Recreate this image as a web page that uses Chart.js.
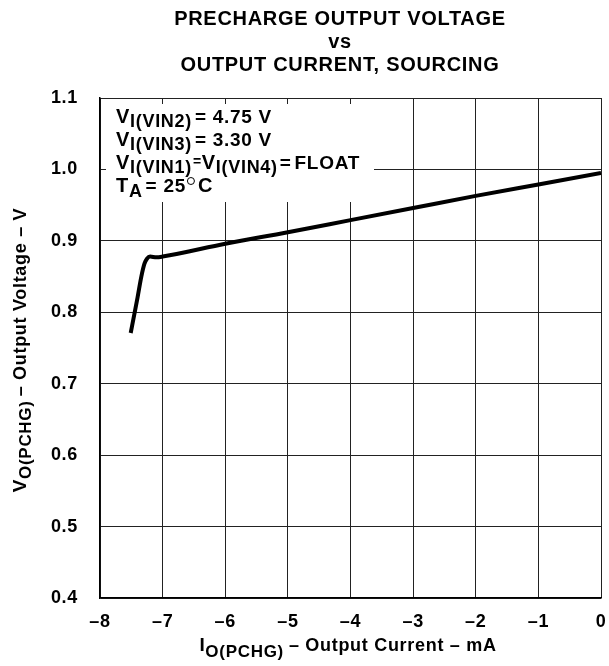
<!DOCTYPE html>
<html>
<head>
    <meta charset="UTF-8">
    <script src="https://cdn.jsdelivr.net/npm/chart.js"></script>
    <style>
        html, body { margin: 0; padding: 0; background: #fff; }
        #wrap { width: 609px; height: 666px; }
    </style>
</head>
<body>
    <div id="wrap"><canvas id="pchgChart"></canvas></div>
    <script>
        // (mA, V)
        const currentMA = [-7.51, -7.45, -7.40, -7.34, -7.29, -7.25, -7.20, -7.10, -7.00, -6, -5, -4, -3, -2, -1, 0];
        const voltageV  = [0.771, 0.798, 0.821, 0.850, 0.868, 0.875, 0.878, 0.877, 0.878, 0.896, 0.912, 0.929, 0.946, 0.963, 0.979, 0.995];

        const xTicks = [-8, -7, -6, -5, -4, -3, -2, -1, 0];
        const yTicks = [0.4, 0.5, 0.6, 0.7, 0.8, 0.9, 1.0, 1.1];

        const titleLines = ["PRECHARGE OUTPUT VOLTAGE", "vs", "OUTPUT CURRENT, SOURCING"];

        const FONT = "'Liberation Sans', Arial, sans-serif";
        const SPACING = "0.7px";

        function runsWidth(ctx, runs) {
            let w = 0;
            runs.forEach(r => {
                ctx.font = "bold " + r[1] + "px " + FONT;
                w += ctx.measureText(r[0]).width + (r[3] || 0);
            });
            return w;
        }

        function drawRuns(ctx, x, y, runs) {
            ctx.textAlign = "left";
            ctx.textBaseline = "alphabetic";
            runs.forEach(r => {
                ctx.font = "bold " + r[1] + "px " + FONT;
                ctx.fillText(r[0], x, y + (r[2] || 0));
                x += ctx.measureText(r[0]).width + (r[3] || 0);
            });
            return x;
        }

        const textPlugin = {
            id: "textPlugin",
            beforeDraw(chart) {
                chart.ctx.letterSpacing = SPACING;
            },
            beforeDatasetsDraw(chart) {
                // white box behind the conditions text hides the grid
                const ctx = chart.ctx;
                ctx.save();
                ctx.fillStyle = "#fff";
                ctx.fillRect(106, 104, 268, 98);
                ctx.restore();
            },
            afterDraw(chart) {
                const ctx = chart.ctx;
                ctx.save();
                ctx.letterSpacing = SPACING;
                ctx.fillStyle = "#000";

                // title
                ctx.textAlign = "center";
                ctx.font = "bold 20px " + FONT;
                titleLines.forEach((t, i) => ctx.fillText(t, 340, 25 + i * 23));

                // conditions
                drawRuns(ctx, 116, 123, [["V", 20], ["I(VIN2)", 18, 4, 3], ["= 4.75 V", 19]]);
                drawRuns(ctx, 116, 146, [["V", 20], ["I(VIN3)", 18, 4, 3], ["= 3.30 V", 19]]);
                drawRuns(ctx, 116, 169, [["V", 20], ["I(VIN1)", 18, 4, 1], ["=", 14, -3, 0], ["V", 20], ["I(VIN4)", 18, 4, 2], ["=", 19, 0, 3], ["FLOAT", 19]]);
                let x = drawRuns(ctx, 116, 192, [["T", 20], ["A", 18, 5, 3], ["= 25", 19, 0, 2]]);
                ctx.lineWidth = 1;
                ctx.strokeStyle = "#000";
                ctx.beginPath();
                ctx.arc(x + 3, 181, 3.5, 0, Math.PI * 2);
                ctx.stroke();
                drawRuns(ctx, x + 10, 192, [["C", 20]]);

                // x axis title
                const xr = [["I", 19], ["O(PCHG)", 17, 6, 5], ["– Output Current – mA", 18]];
                drawRuns(ctx, 348 - runsWidth(ctx, xr) / 2, 651, xr);

                // y axis title
                const yr = [["V", 19], ["O(PCHG)", 17, 5, 4], ["– Output Voltage – V", 18]];
                ctx.translate(26, 350);
                ctx.rotate(-Math.PI / 2);
                drawRuns(ctx, -runsWidth(ctx, yr) / 2, 0, yr);
                ctx.restore();
            }
        };

        new Chart(document.getElementById("pchgChart"), {
            type: "scatter",
            data: {
                datasets: [{
                    data: currentMA.map((c, i) => ({ x: c, y: voltageV[i] })),
                    showLine: true,
                    borderColor: "#000",
                    borderWidth: 4,
                    pointRadius: 0,
                    cubicInterpolationMode: "monotone",
                    borderCapStyle: "butt"
                }]
            },
            options: {
                responsive: true,
                maintainAspectRatio: false,
                animation: false,
                layout: { padding: { top: 98, right: 8, left: 0, bottom: 0 } },
                plugins: {
                    legend: { display: false },
                    title: { display: false },
                    tooltip: { enabled: false }
                },
                scales: {
                    x: {
                        type: "linear",
                        min: -8,
                        max: 0,
                        afterBuildTicks: s => { s.ticks = xTicks.map(v => ({ value: v })); },
                        afterFit: s => { s.height = 68; s.paddingLeft = 0; s.paddingRight = 0; },
                        grid: { color: "#222", lineWidth: 1, drawTicks: false },
                        border: { color: "#000", width: 1.5 },
                        ticks: {
                            padding: 13,
                            color: "#000",
                            font: { family: FONT, size: 18, weight: "bold" },
                            callback: v => v < 0 ? "–" + Math.abs(v) : "0"
                        }
                    },
                    y: {
                        min: 0.4,
                        max: 1.1,
                        afterBuildTicks: s => { s.ticks = yTicks.map(v => ({ value: v })); },
                        afterFit: s => { s.width = 100; s.paddingTop = 0; s.paddingBottom = 0; },
                        grid: { color: "#222", lineWidth: 1, drawTicks: false },
                        border: { color: "#000", width: 1.5 },
                        ticks: {
                            padding: 22,
                            color: "#000",
                            font: { family: FONT, size: 18, weight: "bold" },
                            callback: v => Number(v).toFixed(1)
                        }
                    }
                }
            },
            plugins: [textPlugin]
        });
    </script>
</body>
</html>
